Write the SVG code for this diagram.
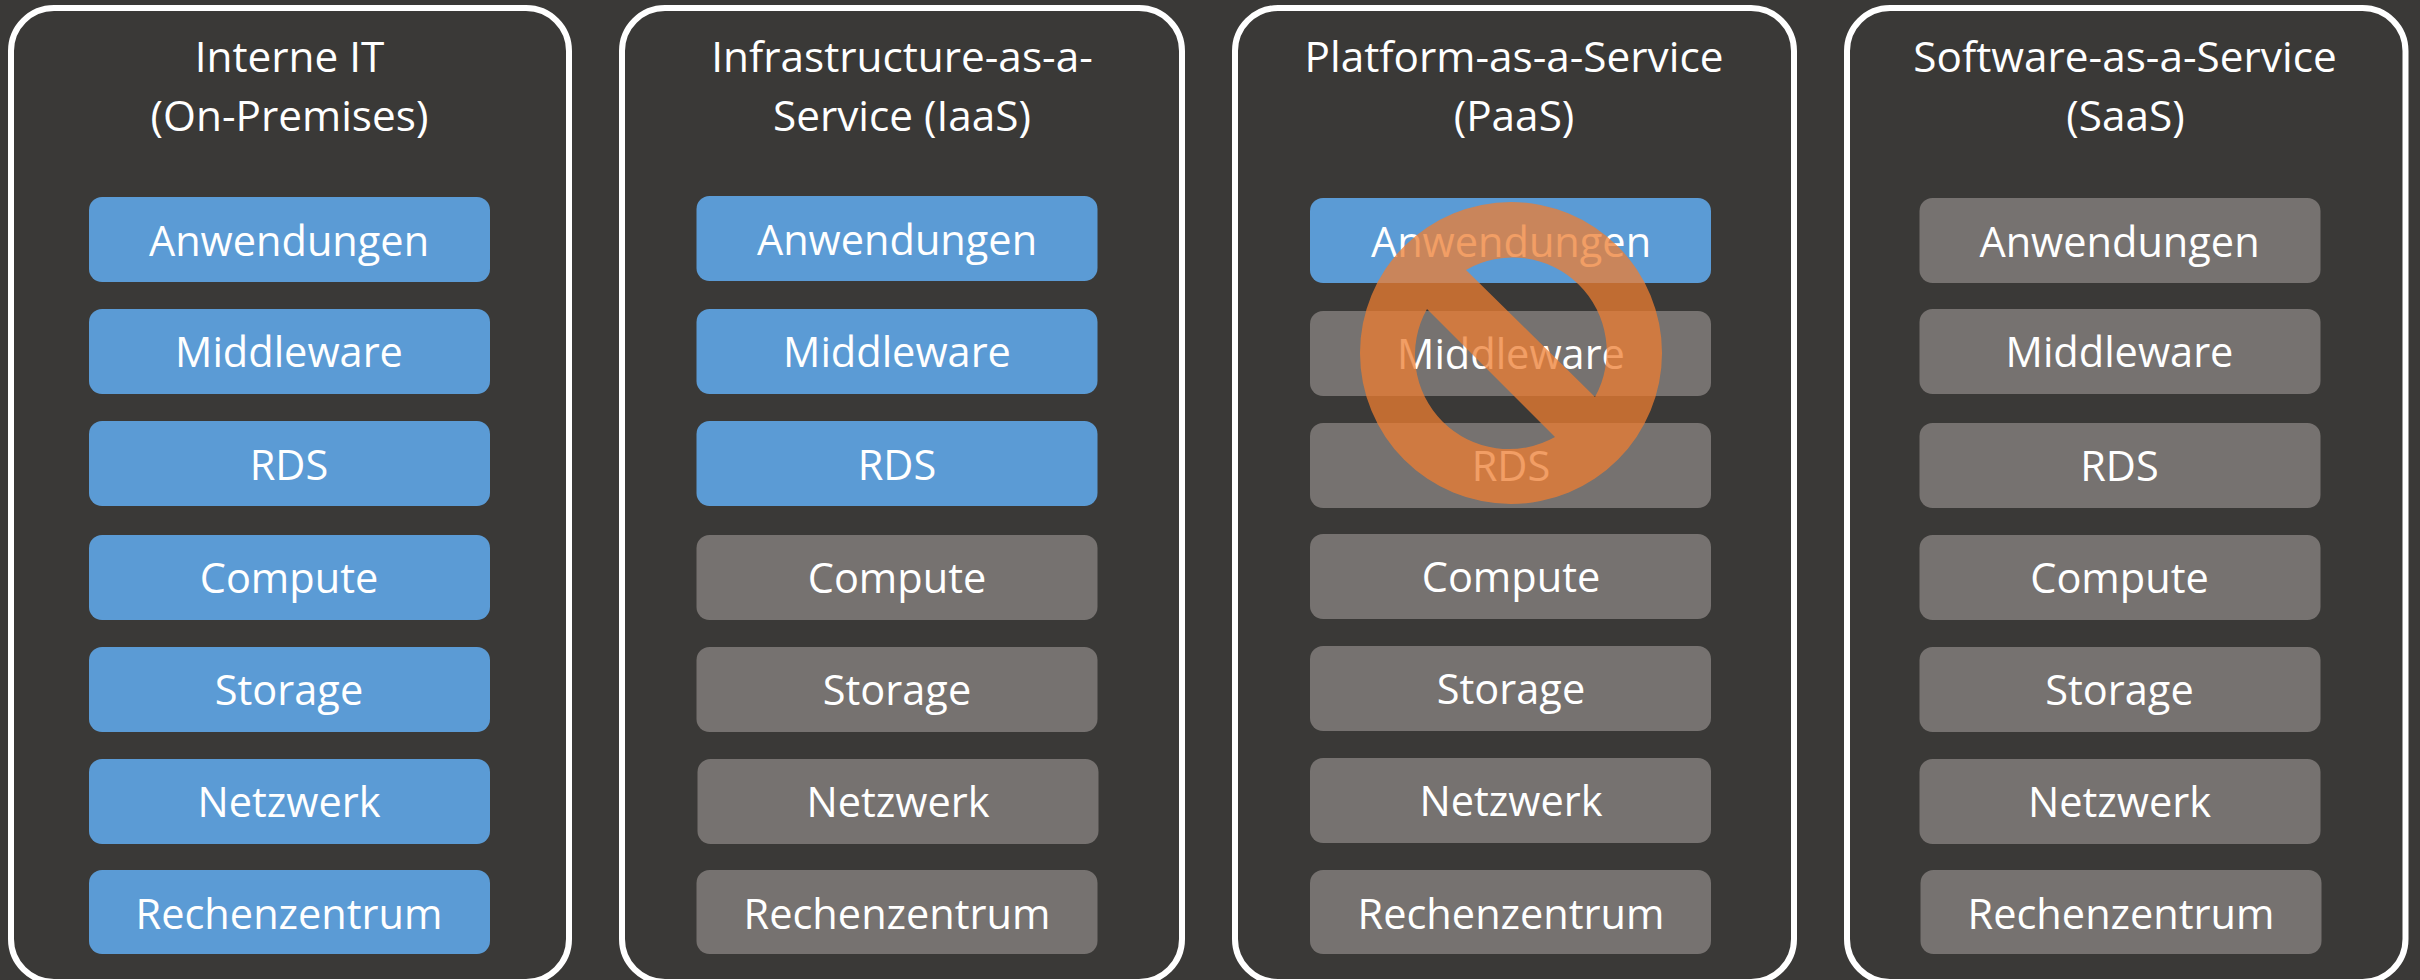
<svg xmlns="http://www.w3.org/2000/svg" width="2420" height="980" viewBox="0 0 2420 980">
<style>
.p{fill:#3a3937;stroke:#fff;stroke-width:6}
.b{fill:#5b9bd5}.g{fill:#767270}
text{font-family:"Open Sans","Noto Sans",sans-serif;fill:#fff;text-anchor:middle}
.l{font-size:41.5px}.t{font-size:42.3px}
</style>
<rect width="2420" height="980" fill="#3a3937"/>
<g id="col1"><rect class="p" x="11" y="8" width="558" height="974" rx="43"/>
<text class="t" x="289.5" y="72">Interne IT</text><text class="t" x="289.5" y="131">(On-Premises)</text>
<g id="c1-1"><rect class="b" x="89" y="197" width="401" height="85" rx="13"/><text class="l" x="289" y="256">Anwendungen</text></g>
<g id="c1-2"><rect class="b" x="89" y="309" width="401" height="85" rx="13"/><text class="l" x="289" y="367">Middleware</text></g>
<g id="c1-3"><rect class="b" x="89" y="421" width="401" height="85" rx="13"/><text class="l" x="289" y="480">RDS</text></g>
<g id="c1-4"><rect class="b" x="89" y="535" width="401" height="85" rx="13"/><text class="l" x="289" y="593">Compute</text></g>
<g id="c1-5"><rect class="b" x="89" y="647" width="401" height="85" rx="13"/><text class="l" x="289" y="705">Storage</text></g>
<g id="c1-6"><rect class="b" x="89" y="759" width="401" height="85" rx="13"/><text class="l" x="289" y="817">Netzwerk</text></g>
<g id="c1-7"><rect class="b" x="89" y="870" width="401" height="84" rx="13"/><text class="l" x="289" y="928.500">Rechenzentrum</text></g></g>
<g id="col2"><rect class="p" x="622" y="8" width="560" height="974" rx="43"/>
<text class="t" x="902" y="72">Infrastructure-as-a-</text><text class="t" x="902" y="131">Service (IaaS)</text>
<g id="c2-1"><rect class="b" x="696.500" y="196" width="401" height="85" rx="13"/><text class="l" x="897" y="255">Anwendungen</text></g>
<g id="c2-2"><rect class="b" x="696.500" y="309" width="401" height="85" rx="13"/><text class="l" x="897" y="367">Middleware</text></g>
<g id="c2-3"><rect class="b" x="696.500" y="421" width="401" height="85" rx="13"/><text class="l" x="897" y="480">RDS</text></g>
<g id="c2-4"><rect class="g" x="696.500" y="535" width="401" height="85" rx="13"/><text class="l" x="897" y="593">Compute</text></g>
<g id="c2-5"><rect class="g" x="696.500" y="647" width="401" height="85" rx="13"/><text class="l" x="897" y="705">Storage</text></g>
<g id="c2-6"><rect class="g" x="697.500" y="759" width="401" height="85" rx="13"/><text class="l" x="898" y="817">Netzwerk</text></g>
<g id="c2-7"><rect class="g" x="696.500" y="870" width="401" height="84" rx="13"/><text class="l" x="897" y="928.500">Rechenzentrum</text></g></g>
<g id="col3"><rect class="p" x="1235" y="8" width="559" height="974" rx="43"/>
<text class="t" x="1514" y="72">Platform-as-a-Service</text><text class="t" x="1514" y="131">(PaaS)</text>
<g id="c3-1"><rect class="b" x="1310" y="198" width="401" height="85" rx="13"/><text class="l" x="1511" y="257">Anwendungen</text></g>
<g id="c3-2"><rect class="g" x="1310" y="311" width="401" height="85" rx="13"/><text class="l" x="1511" y="369">Middleware</text></g>
<g id="c3-3"><rect class="g" x="1310" y="423" width="401" height="85" rx="13"/><text class="l" x="1511" y="481">RDS</text></g>
<g id="c3-4"><rect class="g" x="1310" y="534" width="401" height="85" rx="13"/><text class="l" x="1511" y="592">Compute</text></g>
<g id="c3-5"><rect class="g" x="1310" y="646" width="401" height="85" rx="13"/><text class="l" x="1511" y="704">Storage</text></g>
<g id="c3-6"><rect class="g" x="1310" y="758" width="401" height="85" rx="13"/><text class="l" x="1511" y="816">Netzwerk</text></g>
<g id="c3-7"><rect class="g" x="1310" y="870" width="401" height="84" rx="13"/><text class="l" x="1511" y="928.500">Rechenzentrum</text></g>
<path id="no-symbol" fill="#ed7d31" fill-opacity=".75" fill-rule="evenodd" d="M1360 353a151 151 0 1 0 302 0a151 151 0 1 0-302 0ZM1466 270A94 94 0 0 1 1595 397ZM1427 309L1555 437A94 94 0 0 1 1427 309Z"/></g>
<g id="col4"><rect class="p" x="1847" y="8" width="558.500" height="974" rx="43"/>
<text class="t" x="2125" y="72">Software-as-a-Service</text><text class="t" x="2125.500" y="131">(SaaS)</text>
<g id="c4-1"><rect class="g" x="1919.500" y="198" width="401" height="85" rx="13"/><text class="l" x="2119.500" y="257">Anwendungen</text></g>
<g id="c4-2"><rect class="g" x="1919.500" y="309" width="401" height="85" rx="13"/><text class="l" x="2119.500" y="367">Middleware</text></g>
<g id="c4-3"><rect class="g" x="1919.500" y="423" width="401" height="85" rx="13"/><text class="l" x="2119.500" y="481">RDS</text></g>
<g id="c4-4"><rect class="g" x="1919.500" y="535" width="401" height="85" rx="13"/><text class="l" x="2119.500" y="593">Compute</text></g>
<g id="c4-5"><rect class="g" x="1919.500" y="647" width="401" height="85" rx="13"/><text class="l" x="2119.500" y="705">Storage</text></g>
<g id="c4-6"><rect class="g" x="1919.500" y="759" width="401" height="85" rx="13"/><text class="l" x="2119.500" y="817">Netzwerk</text></g>
<g id="c4-7"><rect class="g" x="1920.500" y="870" width="401" height="84" rx="13"/><text class="l" x="2121" y="928.500">Rechenzentrum</text></g></g>
<g id="connectors"></g>
</svg>
